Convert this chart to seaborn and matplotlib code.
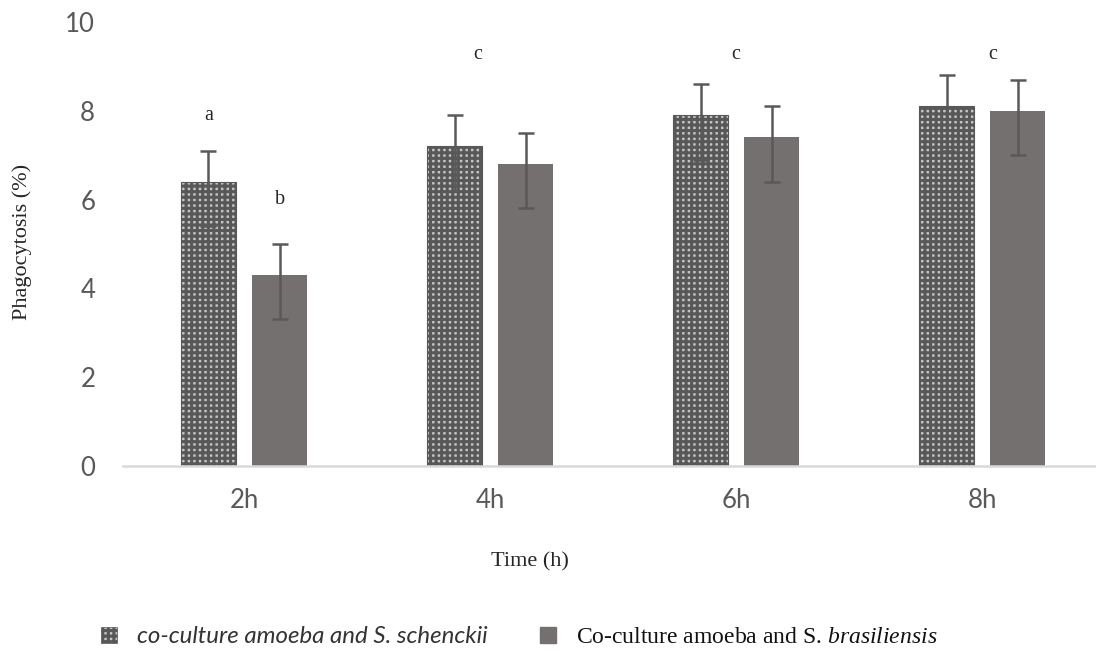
import pandas as pd
import matplotlib
matplotlib.use('Agg')
import matplotlib.pyplot as plt
from matplotlib.patches import Patch
import seaborn as sns

times = ['2h', '4h', '6h', '8h']
schenckii = [6.4, 7.2, 7.9, 8.1]
brasiliensis = [4.3, 6.8, 7.4, 8.0]
err_low = 1.0
err_high = 0.7
letters = ['a', 'b', 'c', 'c', 'c']

lab1 = 'co-culture amoeba and S. schenckii'
lab2 = r'Co-culture amoeba and S. $\mathit{brasiliensis}$'

df = pd.DataFrame({
    'Time': times * 2,
    'Phagocytosis': schenckii + brasiliensis,
    'Group': [lab1] * 4 + [lab2] * 4,
})

sns.set_style('white')
plt.rcParams['hatch.linewidth'] = 2.2
plt.rcParams['mathtext.fontset'] = 'custom'
plt.rcParams['mathtext.it'] = 'Liberation Serif:italic'
plt.rcParams['mathtext.rm'] = 'Liberation Serif'

fig = plt.figure(figsize=(10.96, 6.52), dpi=100)
ax = fig.add_axes([123 / 1096, 1 - 466 / 652, 1 - 123 / 1096, (466 - 22) / 652])

hatch_bg = '#c4c4c4'
hatch_fg = '#585858'
pal = {lab1: hatch_bg, lab2: '#747070'}
sns.barplot(data=df, x='Time', y='Phagocytosis', hue='Group', palette=pal,
            width=0.578, gap=0.225, errorbar=None, ax=ax, legend=False,
            saturation=1)

bars0, bars1 = list(ax.containers[0]), list(ax.containers[1])
for p in bars0:
    p.set_hatch('+++')
    p.set_edgecolor(hatch_fg)
    p.set_linewidth(0.8)
for p in bars1:
    p.set_edgecolor('#747070')
    p.set_linewidth(0)

for cont in [bars0, bars1]:
    xs = [p.get_x() + p.get_width() / 2 for p in cont]
    ys = [p.get_height() for p in cont]
    ax.errorbar(xs, ys, yerr=[[err_low] * len(xs), [err_high] * len(xs)],
                fmt='none', ecolor='#595959', elinewidth=1.8, capsize=5.5,
                capthick=1.8, zorder=5)

# significance letters
serif = ['Liberation Serif', 'DejaVu Serif']
ax.text(bars0[0].get_x() + bars0[0].get_width() / 2, 7.9, letters[0],
        ha='center', va='center', fontsize=14.5, family=serif)
ax.text(bars1[0].get_x() + bars1[0].get_width() / 2, 6.0, letters[1],
        ha='center', va='center', fontsize=14.5, family=serif)
for i, lt, dx in zip([1, 2, 3], letters[2:], [-0.05, 0.0, 0.045]):
    ax.text(i + dx, 9.26, lt, ha='center', va='center', fontsize=14.5, family=serif)

ax.set_ylim(0, 10)
ax.set_xlim(-0.492, 3.463)
ax.set_yticks([0, 2, 4, 6, 8, 10])
ax.tick_params(axis='both', length=0, labelsize=18.5, labelcolor='#595959')
ax.tick_params(axis='y', pad=20)
ax.tick_params(axis='x', pad=16)
for lab in ax.get_xticklabels() + ax.get_yticklabels():
    lab.set_family(['Lato', 'DejaVu Sans'])

for s in ['top', 'right', 'left']:
    ax.spines[s].set_visible(False)
ax.spines['bottom'].set_color('#d9d9d9')
ax.spines['bottom'].set_linewidth(1.8)

ax.set_xlabel('')
ax.set_ylabel('')
fig.text(22 / 1096, 1 - 242 / 652, 'Phagocytosis (%)', rotation=90,
         ha='center', va='center', fontsize=16, family=serif)
fig.text(530 / 1096, 1 - 562 / 652, 'Time (h)', ha='center', va='center',
         fontsize=16, family=serif)

handles = [
    Patch(facecolor=hatch_bg, edgecolor=hatch_fg, hatch='+++', linewidth=0.5, label=lab1),
    Patch(facecolor='#747070', edgecolor='#747070', label=lab2),
]
leg = fig.legend(handles=handles, loc='center', bbox_to_anchor=(519 / 1096, 1 - 637 / 652),
                 ncol=2, frameon=False, handlelength=0.68, handleheight=0.68,
                 handletextpad=0.85, columnspacing=2.2, fontsize=17)
t1, t2 = leg.get_texts()
t1.set_family(['Lato', 'DejaVu Sans'])
t1.set_style('italic')
t1.set_fontsize(17.3)
t1.set_color('#333333')
t2.set_family(serif)
t2.set_fontsize(17)
t2.set_color('#111111')

fig.savefig('out.png', dpi=100)
